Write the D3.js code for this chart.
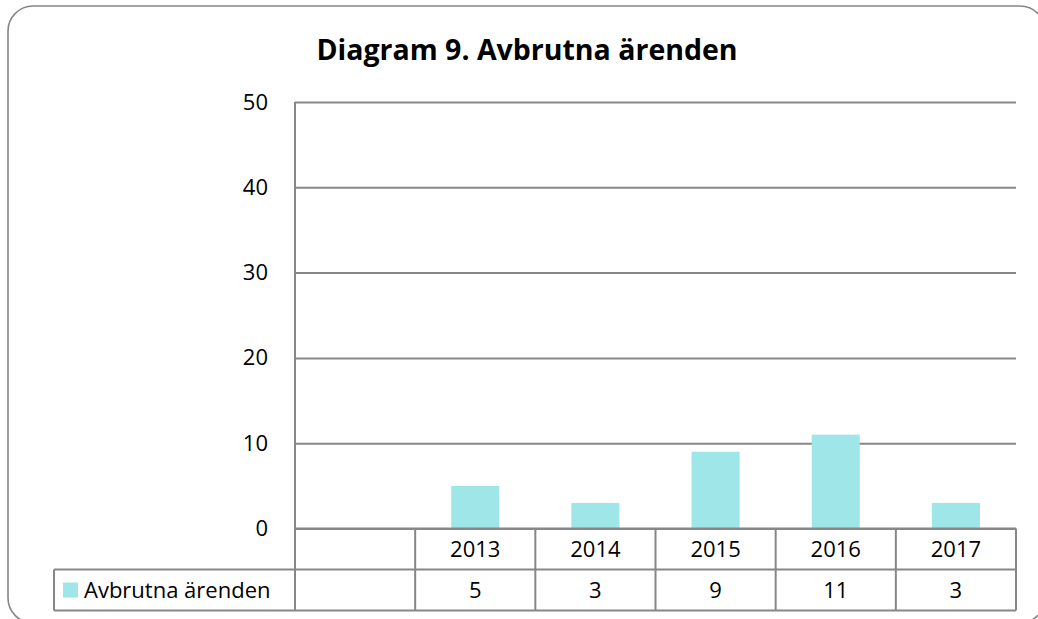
<!DOCTYPE html>
<html>
<head>
<meta charset="utf-8">
<script src="https://d3js.org/d3.v7.min.js"></script>
<style>
    body { margin: 0; background: #fff; }
    svg text { font-family: "Open Sans", Lato, sans-serif; fill: #000; }
    .grid line { stroke: #878787; stroke-width: 2; }
    .grid path { display: none; }
    .tbl line { stroke: #878787; stroke-width: 2; }
</style>
</head>
<body>
<script>

    // chart data
    var categories = ["", "2013", "2014", "2015", "2016", "2017"];
    var values = [null, 5, 3, 9, 11, 3];
    var seriesName = "Avbrutna ärenden";
    var yTicks = [0, 10, 20, 30, 40, 50];
    var title = "Diagram 9. Avbrutna ärenden";

    var W = 1038, H = 619;
    var plotL = 295, plotR = 1016, plotT = 102, plotB = 528.5;
    var rowH = 41;
    var labelSize = "22px";

    var svg = d3.select("body").append("svg")
        .attr("width", W)
        .attr("height", H);

    // outer rounded frame
    svg.append("rect")
        .attr("x", 8).attr("y", 6)
        .attr("width", 1037).attr("height", 617)
        .attr("rx", 25).attr("ry", 25)
        .attr("fill", "#fff")
        .attr("stroke", "#868686")
        .attr("stroke-width", 1.6);

    svg.append("text")
        .attr("x", 527)
        .attr("y", 60)
        .attr("text-anchor", "middle")
        .style("font-size", "28.5px")
        .style("font-weight", "bold")
        .text(title);

    var x = d3.scaleBand()
        .domain(categories)
        .range([plotL, plotR]);

    var y = d3.scaleLinear()
        .domain([0, 50])
        .range([plotB, plotT]);

    // gridlines + y labels
    var yAxis = d3.axisLeft(y)
        .tickValues(yTicks)
        .tickSize(-(plotR - plotL))
        .tickPadding(27);

    var g = svg.append("g")
        .attr("class", "grid")
        .attr("transform", "translate(" + plotL + ",0)")
        .call(yAxis);
    g.selectAll("text")
        .style("font-size", labelSize)
        .style("font-family", "'Open Sans', Lato, sans-serif")
        .attr("fill", "#000");

    // bars
    var bw = x.bandwidth() * 0.4;
    svg.selectAll(".bar")
        .data(categories.map(function (c, i) { return { c: c, v: values[i] }; })
            .filter(function (d) { return d.v != null; }))
        .enter().append("rect")
        .attr("class", "bar")
        .attr("x", function (d) { return x(d.c) + (x.bandwidth() - bw) / 2; })
        .attr("y", function (d) { return y(d.v); })
        .attr("width", bw)
        .attr("height", function (d) { return y(0) - y(d.v); })
        .attr("fill", "#9fe6e8");

    // data table
    var tbl = svg.append("g").attr("class", "tbl");
    var legLeft = 54;
    var r1 = plotB, r2 = plotB + rowH, r3 = plotB + 2 * rowH;

    // horizontal lines
    tbl.append("line").attr("x1", plotL).attr("x2", plotR).attr("y1", r1).attr("y2", r1);
    tbl.append("line").attr("x1", legLeft).attr("x2", plotR).attr("y1", r2).attr("y2", r2);
    tbl.append("line").attr("x1", legLeft).attr("x2", plotR).attr("y1", r3).attr("y2", r3);
    // vertical lines
    tbl.append("line").attr("x1", plotL).attr("x2", plotL).attr("y1", plotT).attr("y2", r3);
    tbl.append("line").attr("x1", legLeft).attr("x2", legLeft).attr("y1", r2).attr("y2", r3);
    categories.forEach(function (c) {
        var xr = x(c) + x.bandwidth();
        tbl.append("line").attr("x1", xr).attr("x2", xr).attr("y1", r1).attr("y2", r3);
    });

    // category labels
    svg.selectAll(".cat")
        .data(categories)
        .enter().append("text")
        .attr("class", "cat")
        .attr("x", function (d) { return x(d) + x.bandwidth() / 2; })
        .attr("y", (r1 + r2) / 2)
        .attr("dy", "0.35em")
        .attr("text-anchor", "middle")
        .style("font-size", labelSize)
        .text(function (d) { return d; });

    // values
    svg.selectAll(".val")
        .data(categories)
        .enter().append("text")
        .attr("class", "val")
        .attr("x", function (d) { return x(d) + x.bandwidth() / 2; })
        .attr("y", (r2 + r3) / 2)
        .attr("dy", "0.35em")
        .attr("text-anchor", "middle")
        .style("font-size", labelSize)
        .text(function (d, i) { return values[i] == null ? "" : values[i]; });

    // legend key
    svg.append("rect")
        .attr("x", 63).attr("y", (r2 + r3) / 2 - 7.5)
        .attr("width", 15).attr("height", 15)
        .attr("fill", "#9fe6e8");
    svg.append("text")
        .attr("x", 84)
        .attr("y", (r2 + r3) / 2)
        .attr("dy", "0.35em")
        .style("font-size", labelSize)
        .text(seriesName);

</script>
</body>
</html>
